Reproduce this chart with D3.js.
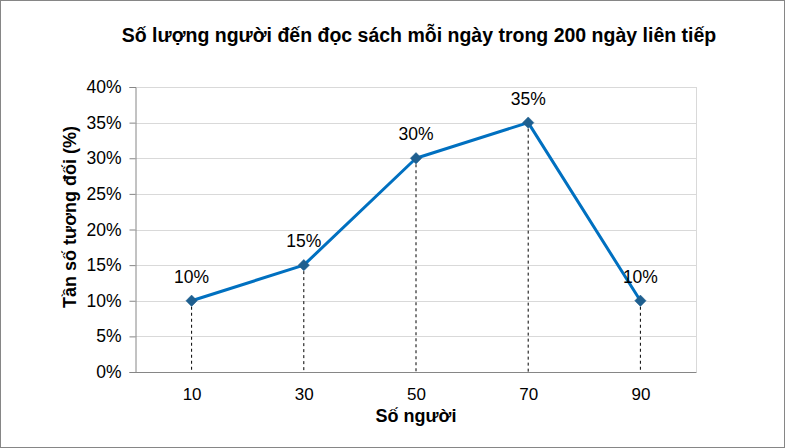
<!DOCTYPE html>
<html><head><meta charset="utf-8">
<script src="https://cdn.jsdelivr.net/npm/d3@7"></script>
<style>body{margin:0;background:#fff}svg{display:block;font-family:"Liberation Sans",Arial,sans-serif}</style>
</head><body><svg id="c" width="785" height="448"></svg>
<script>
const categories = ["10","30","50","70","90"];
const values = [10,15,30,35,10];
const yTicks = [0,5,10,15,20,25,30,35,40];
const title = "Số lượng người đến đọc sách mỗi ngày trong 200 ngày liên tiếp";
const xTitle = "Số người";
const yTitle = "Tần số tương đối (%)";

const svg = d3.select("#c");
const L=135.5, R=696.5, T=87, B=372;
svg.append("rect").attr("x",0.5).attr("y",0.5).attr("width",784).attr("height",447).attr("fill","#fff").attr("stroke","#868686");

const x = d3.scalePoint().domain(categories).range([L,R]).padding(0.5);
const y = d3.scaleLinear().domain([0,40]).range([B,T]);

// gridlines
svg.append("g").selectAll("line").data(yTicks.filter(d=>d>0)).join("line")
  .attr("x1",L).attr("x2",R).attr("y1",d=>Math.round(y(d))+0.5).attr("y2",d=>Math.round(y(d))+0.5)
  .attr("stroke","#d9d9d9").attr("stroke-width",1);
svg.append("line").attr("x1",R).attr("x2",R).attr("y1",T).attr("y2",B).attr("stroke","#d9d9d9");

// y axis
const ya = svg.append("g").attr("transform",`translate(${L},0)`)
  .call(d3.axisLeft(y).tickValues(yTicks).tickFormat(d=>d+"%").tickSize(6).tickPadding(8));
ya.select(".domain").attr("stroke","#868686");
ya.selectAll(".tick line").attr("stroke","#868686");
ya.selectAll("text").attr("font-size",17.5).attr("fill","#000").attr("font-family","Liberation Sans, Arial, sans-serif");

// x axis
const xa = svg.append("g").attr("transform",`translate(0,${B+0.5})`)
  .call(d3.axisBottom(x).tickSize(0).tickPadding(15));
xa.select(".domain").attr("stroke","#868686").attr("d",`M${L-5},0H${R}`);
xa.selectAll("text").attr("font-size",17).attr("fill","#000").attr("font-family","Liberation Sans, Arial, sans-serif");

// drop lines
svg.append("g").selectAll("line").data(values).join("line")
  .attr("x1",(d,i)=>x(categories[i])).attr("x2",(d,i)=>x(categories[i]))
  .attr("y1",d=>y(d)).attr("y2",B)
  .attr("stroke","#000").attr("stroke-width",1).attr("stroke-dasharray","3,3");

// line
const line = d3.line().x((d,i)=>x(categories[i])).y(d=>y(d));
svg.append("path").datum(values).attr("d",line).attr("fill","none")
  .attr("stroke","#0070C0").attr("stroke-width",3).attr("stroke-linejoin","round");

// markers
svg.append("g").selectAll("path").data(values).join("path")
  .attr("transform",(d,i)=>`translate(${x(categories[i])},${y(d)}) rotate(45)`)
  .attr("d","M-4,-4H4V4H-4Z").attr("fill","#1F5F8F").attr("stroke","#1F5F8F").attr("stroke-width",0.5);

// data labels
svg.append("g").selectAll("text").data(values).join("text")
  .attr("x",(d,i)=>x(categories[i])).attr("y",d=>y(d)-18)
  .attr("text-anchor","middle").attr("font-size",17.5).attr("fill","#000").text(d=>d+"%");

// titles
svg.append("text").attr("x",419).attr("y",42).attr("text-anchor","middle")
  .attr("font-size",19.5).attr("font-weight","bold").text(title);
svg.append("text").attr("x",416).attr("y",422).attr("text-anchor","middle")
  .attr("font-size",18).attr("font-weight","bold").text(xTitle);
svg.append("text").attr("transform","translate(76,217) rotate(-90)").attr("text-anchor","middle")
  .attr("font-size",18).attr("font-weight","bold").text(yTitle);
</script></body></html>
